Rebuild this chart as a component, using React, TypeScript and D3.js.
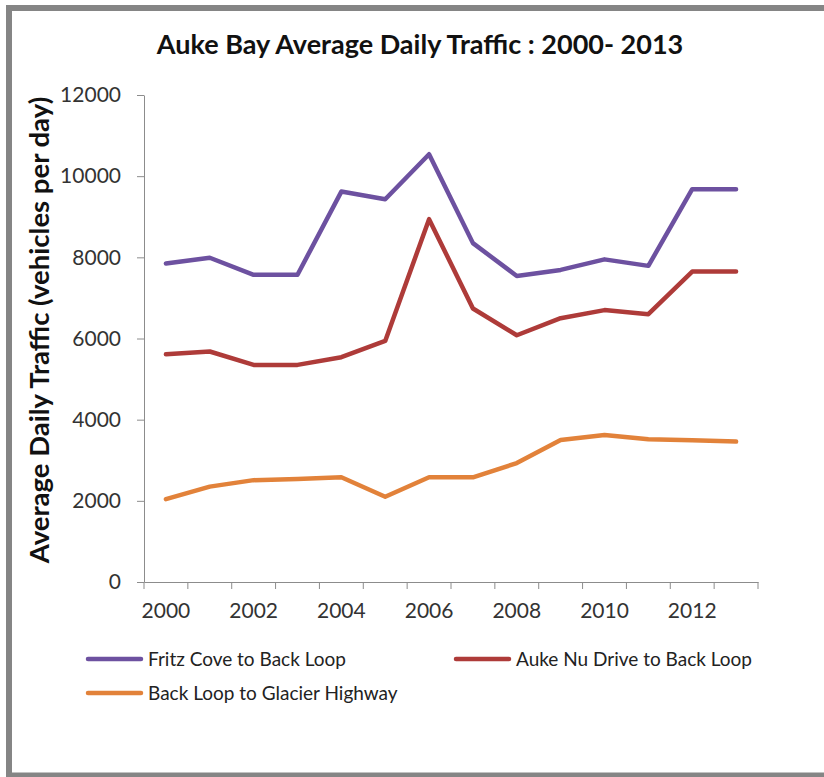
import React, { useEffect, useRef } from "react"
import * as d3 from "d3"

const years = ["2000", "2001", "2002", "2003", "2004", "2005", "2006", "2007", "2008", "2009", "2010", "2011", "2012", "2013"]
const yearLabels = ["2000", "2002", "2004", "2006", "2008", "2010", "2012"]
const fritzCove = [7850, 7990, 7570, 7570, 9620, 9430, 10540, 8350, 7540, 7690, 7950, 7790, 9680, 9680]
const aukeNu = [5610, 5680, 5350, 5350, 5540, 5940, 8940, 6740, 6080, 6500, 6700, 6600, 7650, 7650]
const backLoop = [2040, 2350, 2510, 2540, 2580, 2100, 2580, 2580, 2930, 3500, 3620, 3520, 3490, 3460]
const yTicks = [0, 2000, 4000, 6000, 8000, 10000, 12000]
const seriesNames = ["Fritz Cove to Back Loop", "Auke Nu Drive to Back Loop", "Back Loop to Glacier Highway"]
const seriesColors = ["#6d51a0", "#ae3b39", "#e2823a"]

export default function App() {
  const ref = useRef<SVGSVGElement>(null)

  useEffect(() => {
    const svg = d3.select(ref.current)
    svg.selectAll("*").remove()
    const font = "Lato, 'Open Sans', sans-serif"

    // frame
    svg.append("rect").attr("x", 0).attr("y", 0).attr("width", 824).attr("height", 777).attr("fill", "#fff")
    svg.append("path")
      .attr("d", "M9,777 L9,8 L824,8")
      .attr("fill", "none")
      .attr("stroke", "#858585")
      .attr("stroke-width", 6)
    svg.append("line")
      .attr("x1", 6).attr("x2", 824).attr("y1", 775).attr("y2", 775)
      .attr("stroke", "#858585").attr("stroke-width", 5)

    const x = d3.scaleBand().domain(years).range([144, 758])
    const y = d3.scaleLinear().domain([0, 12000]).range([582, 95])

    // title
    svg.append("text")
      .attr("x", 420).attr("y", 54)
      .attr("text-anchor", "middle")
      .attr("font-family", font).attr("font-weight", "bold").attr("font-size", 27)
      .attr("fill", "#111")
      .text("Auke Bay Average Daily Traffic : 2000- 2013")

    // y axis
    const yAxis = svg.append("g").attr("transform", "translate(144,0)")
      .call(d3.axisLeft(y).tickValues(yTicks).tickFormat(d3.format("d")).tickSize(7).tickPadding(16).tickSizeOuter(0))
    yAxis.select(".domain").attr("stroke", "#8c8c8c")
    yAxis.selectAll(".tick line").attr("stroke", "#8c8c8c")
    yAxis.selectAll(".tick text")
      .attr("font-family", font).attr("font-size", 21).attr("fill", "#333")

    // x axis
    const xAxis = svg.append("g").attr("transform", "translate(0,582)")
      .call(d3.axisBottom(x).tickSize(0).tickFormat(() => ""))
    xAxis.select(".domain").attr("stroke", "#8c8c8c")
    xAxis.selectAll(".tick").remove()
    const bounds = years.map(d => x(d) as number).concat([x.range()[1]])
    xAxis.selectAll(".xt").data(bounds).enter().append("line")
      .attr("x1", d => d).attr("x2", d => d).attr("y1", 0).attr("y2", 7)
      .attr("stroke", "#8c8c8c")
    xAxis.selectAll(".xl").data(yearLabels).enter().append("text")
      .attr("x", d => (x(d) as number) + x.bandwidth() / 2)
      .attr("y", 36)
      .attr("text-anchor", "middle")
      .attr("font-family", font).attr("font-size", 21).attr("fill", "#333")
      .text(d => d)

    // y label
    svg.append("text")
      .attr("transform", "translate(49,330) rotate(-90)")
      .attr("text-anchor", "middle")
      .attr("font-family", font).attr("font-weight", "bold").attr("font-size", 27.5)
      .attr("fill", "#111")
      .text("Average Daily Traffic (vehicles per day)")

    // lines
    const allSeries = [fritzCove, aukeNu, backLoop]
    const line = d3.line<number>()
      .x((d, i) => (x(years[i]) as number) + x.bandwidth() / 2)
      .y(d => y(d))
    allSeries.forEach((s, k) => {
      svg.append("path")
        .datum(s)
        .attr("d", line)
        .attr("fill", "none")
        .attr("stroke", seriesColors[k])
        .attr("stroke-width", 4.5)
        .attr("stroke-linejoin", "round")
        .attr("stroke-linecap", "round")
    })

    // legend
    const legendPos = [[88, 659], [456, 659], [88, 693]]
    seriesNames.forEach((name, k) => {
      const [lx, ly] = legendPos[k]
      svg.append("line")
        .attr("x1", lx).attr("x2", lx + 53).attr("y1", ly).attr("y2", ly)
        .attr("stroke", seriesColors[k]).attr("stroke-width", 4.5).attr("stroke-linecap", "round")
      svg.append("text")
        .attr("x", lx + 60).attr("y", ly + 7)
        .attr("font-family", font).attr("font-size", 19).attr("fill", "#222")
        .text(name)
    })
  }, [])

  return <svg ref={ref} width={824} height={777} style={{ position: "absolute", left: 0, top: 0 }} />
}
